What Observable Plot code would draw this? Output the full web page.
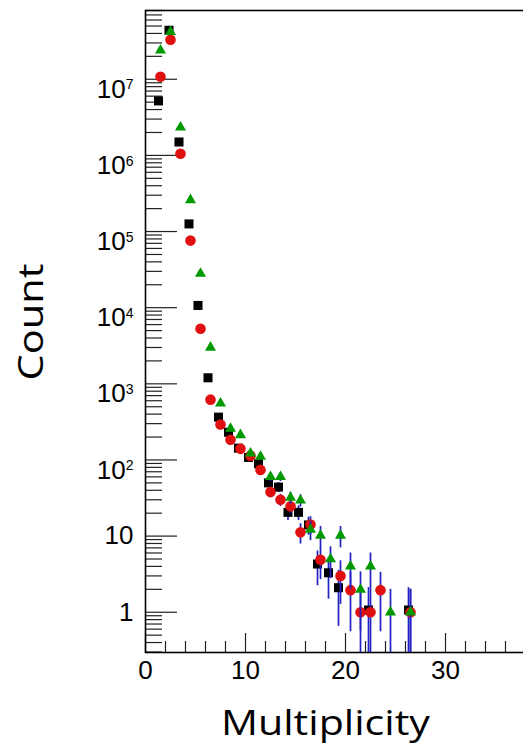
<!DOCTYPE html>
<html>
<head>
<meta charset="utf-8">
<script src="https://cdn.jsdelivr.net/npm/d3@7"></script>
<script src="https://cdn.jsdelivr.net/npm/@observablehq/plot@0.6"></script>
<style>
  html, body { margin: 0; padding: 0; background: #fff; overflow: hidden; width: 523px; height: 745px; }
  #chart { width: 523px; height: 745px; overflow: hidden; }
  #chart svg { max-width: none !important; }
</style>
</head>
<body>
<div id="chart"></div>
<script>
// ---- data ----
const multiplicityBlack = [1.3, 2.35, 3.35, 4.35, 5.25, 6.25, 7.3, 8.3, 9.3, 10.3, 11.3, 12.3, 13.3, 14.25, 15.3, 16.3, 17.2, 18.3, 19.3, 22.3, 26.3];
const countBlack = [5.2e6, 4.4e7, 1.5e6, 1.26e5, 1.07e4, 1200, 365, 231, 143, 108, 89, 50, 44, 20.5, 20.5, 14, 4.3, 3.3, 2.1, 1.07, 1.07];

const multiplicityRed = [1.5, 2.5, 3.5, 4.5, 5.5, 6.5, 7.5, 8.5, 9.5, 10.5, 11.5, 12.5, 13.5, 14.5, 15.5, 16.5, 17.5, 19.5, 20.5, 21.5, 22.5, 23.5, 26.5];
const countRed = [1.08e7, 3.3e7, 1.05e6, 7.6e4, 5.3e3, 620, 292, 184, 140, 114, 74, 38, 30, 24.6, 11.2, 14.2, 4.9, 3.0, 1.95, 1.0, 1.0, 1.95, 1.0];

const multiplicityGreen = [1.5, 2.5, 3.5, 4.5, 5.5, 6.5, 7.5, 8.5, 9.5, 10.5, 11.5, 12.5, 13.5, 14.5, 15.5, 16.5, 17.5, 18.5, 19.5, 20.5, 21.5, 22.5, 24.5, 26.5];
const countGreen = [2.4e7, 4.2e7, 2.34e6, 2.6e5, 2.8e4, 3.0e3, 555, 258, 213, 122, 111, 60, 60, 32, 29.5, 12.2, 10.2, 5.0, 10.2, 4.0, 1.98, 4.0, 1.0, 1.0];

const xMajorTicks = [0, 10, 20, 30];
const xMinorTicks = [2, 4, 6, 8, 12, 14, 16, 18, 22, 24, 26, 28, 32, 34, 36, 38];
const yMajorTicks = [1, 10, 1e2, 1e3, 1e4, 1e5, 1e6, 1e7];
const yDecades = [-1, 0, 1, 2, 3, 4, 5, 6, 7];
const yMinorTicks = yDecades.flatMap(e => [2, 3, 4, 5, 6, 7, 8, 9].map(m => m * Math.pow(10, e)))
  .filter(v => v >= 0.3 && v <= 8e7);

const xTitle = "Multiplicity";
const yTitle = "Count";

// ---- layout ----
const W = 546, H = 745, mL = 145, mR = 1, mT = 10, mB = 93;
const innerW = W - mL - mR;
const innerH = H - mT - mB;

const rows = (xs, ys) => xs.map((x, i) => ({
  x, y: ys[i],
  lo: Math.max(ys[i] - Math.sqrt(ys[i]), 0.05),
  hi: ys[i] + Math.sqrt(ys[i])
}));
const black = rows(multiplicityBlack, countBlack);
const red = rows(multiplicityRed, countRed);
const green = rows(multiplicityGreen, countGreen);

const blue = "#2222c4";
const redC = "#e01010";
const greenC = "#009900";

const fmtY = d => d === 1 ? "1" : d === 10 ? "10" : "10^" + Math.round(Math.log10(d));

const chart = Plot.plot({
  width: W, height: H,
  marginLeft: mL, marginRight: mR, marginTop: mT, marginBottom: mB,
  style: { fontFamily: "'Liberation Sans', Arial, sans-serif", fontSize: "26px", background: "#fff", color: "#000", overflow: "visible", maxWidth: "none" },
  x: { type: "linear", domain: [0, 40], label: null },
  y: { type: "log", domain: [0.296, 8e7], label: null },
  marks: [
    // ticks (inward, ROOT style)
    Plot.tickY(yMajorTicks, { y: d => d, insetRight: innerW - 32, stroke: "#222", strokeWidth: 1.2 }),
    Plot.tickY(yMinorTicks, { y: d => d, insetRight: innerW - 17, stroke: "#222", strokeWidth: 1.2 }),
    Plot.tickX(xMajorTicks, { x: d => d, insetTop: innerH - 19, stroke: "#222", strokeWidth: 1.2 }),
    Plot.tickX(xMinorTicks, { x: d => d, insetTop: innerH - 11, stroke: "#222", strokeWidth: 1.2 }),
    Plot.frame({ stroke: "#000", strokeWidth: 1.6 }),
    Plot.axisY({ ticks: yMajorTicks, tickSize: 0, tickPadding: 12, tickFormat: fmtY, fontSize: 26, label: null }),
    Plot.axisX({ ticks: xMajorTicks, tickSize: 0, tickPadding: 8, tickFormat: d => String(d), fontSize: 26, label: null }),
    // black series
    Plot.ruleX(black, { x: "x", y1: "lo", y2: "hi", stroke: blue, strokeWidth: 1.7, clip: true }),
    Plot.dot(black, { x: "x", y: "y", symbol: "square", r: 5.1, fill: "#000", stroke: null }),
    // red series
    Plot.ruleX(red, { x: "x", y1: "lo", y2: "hi", stroke: blue, strokeWidth: 1.7, clip: true }),
    Plot.dot(red, { x: "x", y: "y", symbol: "circle", r: 5.3, fill: redC, stroke: null }),
    // green series
    Plot.ruleX(green, { x: "x", y1: "lo", y2: "hi", stroke: blue, strokeWidth: 1.7, clip: true }),
    Plot.dot(green, { x: "x", y: "y", symbol: "triangle", r: 4.1, fill: greenC, stroke: null }),
    // axis titles
    Plot.text([xTitle], { frameAnchor: "bottom", dx: -20, dy: 72, lineAnchor: "middle", textAnchor: "middle", text: d => d,
      fontFamily: "'Open Sans', Lato, sans-serif", fontSize: 34, fill: "#000" }),
    Plot.text([yTitle], { frameAnchor: "left", dx: -113.5, dy: -9.5, rotate: -90, lineAnchor: "middle", textAnchor: "middle", text: d => d,
      fontFamily: "'Open Sans', Lato, sans-serif", fontSize: 35, fill: "#000" })
  ]
});

const ns = "http://www.w3.org/2000/svg";
const svg = chart.tagName.toLowerCase() === "svg" ? chart : chart.querySelector("svg");
svg.style.maxWidth = "none";
svg.setAttribute("width", W);
svg.setAttribute("height", H);
// superscript exponents on y tick labels
svg.querySelectorAll('g[aria-label="y-axis tick label"] text').forEach(t => {
  const s = t.textContent;
  if (s.includes("^")) {
    const [b, e] = s.split("^");
    t.textContent = "";
    const t1 = document.createElementNS(ns, "tspan");
    t1.textContent = b;
    const t2 = document.createElementNS(ns, "tspan");
    t2.textContent = e;
    t2.setAttribute("font-size", "14");
    t2.setAttribute("dy", "-8.5");
    t.append(t1, t2);
    t.setAttribute("dy", (26 * 0.32 + 2) + "px");
  }
});
// stretch the axis titles to the reference widths
svg.querySelectorAll("text").forEach(t => {
  if (t.textContent === xTitle) { t.setAttribute("textLength", "209"); t.setAttribute("lengthAdjust", "spacingAndGlyphs"); }
  if (t.textContent === yTitle) { t.setAttribute("textLength", "117"); t.setAttribute("lengthAdjust", "spacingAndGlyphs"); }
});

document.getElementById("chart").append(chart);
</script>
</body>
</html>
